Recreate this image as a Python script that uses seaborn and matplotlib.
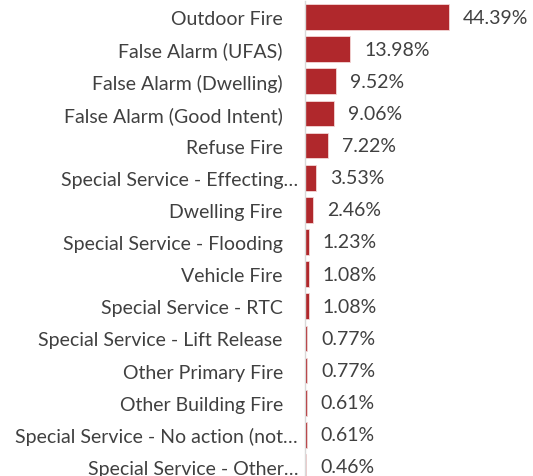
import pandas as pd
import seaborn as sns
import matplotlib.pyplot as plt
import matplotlib.transforms as mtransforms

# Incident types and their share of all incidents
categories = [
    "Outdoor Fire",
    "False Alarm (UFAS)",
    "False Alarm (Dwelling)",
    "False Alarm (Good Intent)",
    "Refuse Fire",
    "Special Service - Effecting\u2026",
    "Dwelling Fire",
    "Special Service - Flooding",
    "Vehicle Fire",
    "Special Service - RTC",
    "Special Service - Lift Release",
    "Other Primary Fire",
    "Other Building Fire",
    "Special Service - No action (not\u2026",
    "Special Service - Other\u2026",
]
shares = [44.39, 13.98, 9.52, 9.06, 7.22, 3.53, 2.46, 1.23, 1.08, 1.08, 0.77, 0.77, 0.61, 0.61, 0.46]

df = pd.DataFrame({"category": categories, "share": shares})

sns.set_style("white")
plt.rcParams['font.family'] = ['Lato', 'DejaVu Sans']

fig = plt.figure(figsize=(5.33, 4.77), dpi=100)
ax = fig.add_axes([305 / 533, 1 - 484 / 477, 1 - 305 / 533, 482 / 477])

sns.barplot(data=df, x="share", y="category", color="#B0282C", width=0.8,
            edgecolor="#f3d6d6", linewidth=0.6, saturation=1, ax=ax)

ax.bar_label(ax.containers[0], labels=[f"{v:.2f}%" for v in shares],
             padding=10, fontsize=14, color="#404040")

ax.set_xlim(0, 70.3)
ax.set_xlabel("")
ax.set_ylabel("")
ax.set_xticks([])
ax.tick_params(axis="y", length=0, pad=16, labelsize=14, labelcolor="#404040")
for side in ["top", "right", "bottom"]:
    ax.spines[side].set_visible(False)
ax.spines["left"].set_color("#d9d9d9")
ax.spines["left"].set_linewidth(1)

# truncated labels sit a bit closer to the axis, like in the original
shift = mtransforms.ScaledTranslation(11 / 72, 0, fig.dpi_scale_trans)
for lab in ax.get_yticklabels():
    if lab.get_text().endswith("\u2026"):
        lab.set_transform(lab.get_transform() + shift)

fig.savefig("out.png", dpi=100)
